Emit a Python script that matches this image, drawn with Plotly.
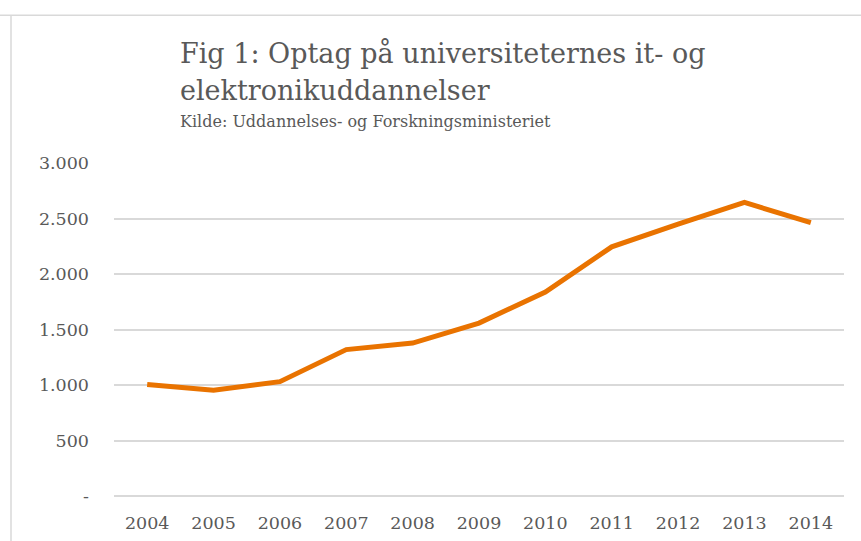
import plotly.graph_objects as go

years = ["2004", "2005", "2006", "2007", "2008", "2009", "2010", "2011", "2012", "2013", "2014"]
optag = [1004, 952, 1030, 1319, 1378, 1558, 1838, 2245, 2450, 2645, 2462]
y_tickvals = [0, 500, 1000, 1500, 2000, 2500, 3000]
y_ticktext = ["-", "500", "1.000", "1.500", "2.000", "2.500", "3.000"]

title_line1 = "Fig 1: Optag på universiteternes it- og"
title_line2 = "elektronikuddannelser"
subtitle = "Kilde: Uddannelses- og Forskningsministeriet"

FONT = "DejaVu Serif"
GRAY = "#595959"
PW, PH = 730, 332.5  # plot area size in px

fig = go.Figure()
fig.add_trace(go.Scatter(
    x=years, y=optag, mode="lines",
    line=dict(color="#E97300", width=5),
    hoverinfo="x+y",
))

fig.update_layout(
    width=861, height=541,
    margin=dict(l=114, r=17, t=163, b=45, pad=0, autoexpand=False),
    paper_bgcolor="white", plot_bgcolor="white",
    showlegend=False,
    font=dict(family=FONT, color=GRAY),
    xaxis=dict(
        type="category", range=[-0.5, 10.5], showgrid=False, zeroline=False, showline=False,
        ticks="", tickfont=dict(size=17.5, color=GRAY, family=FONT),
        ticklabelstandoff=14, automargin=False,
    ),
    yaxis=dict(
        range=[0, 3000], tickvals=y_tickvals, ticktext=y_ticktext,
        showgrid=True, gridcolor="#d9d9d9", gridwidth=1.5,
        zeroline=True, zerolinecolor="#d9d9d9", zerolinewidth=1.5,
        showline=False, ticks="", automargin=False,
        tickfont=dict(size=17.5, color=GRAY, family=FONT),
        ticklabelstandoff=24,
    ),
    shapes=[
        dict(type="line", xref="paper", yref="paper", x0=-114 / PW, x1=1 + 17 / PW,
             y0=1 + 147.5 / PH, y1=1 + 147.5 / PH, line=dict(color="#d9d9d9", width=1.5)),
        dict(type="line", xref="paper", yref="paper", x0=-103 / PW, x1=-103 / PW,
             y0=-45 / PH, y1=1 + 147.5 / PH, line=dict(color="#d9d9d9", width=1.5)),
    ],
)

x_title = (178 - 114) / PW
fig.add_annotation(xref="paper", yref="paper", x=x_title, y=1 + (163 - 36) / PH,
                   xanchor="left", yanchor="top", showarrow=False, align="left",
                   text=title_line1, font=dict(size=27, color=GRAY, family=FONT))
fig.add_annotation(xref="paper", yref="paper", x=x_title, y=1 + (163 - 73) / PH,
                   xanchor="left", yanchor="top", showarrow=False, align="left",
                   text=title_line2, font=dict(size=27, color=GRAY, family=FONT))
fig.add_annotation(xref="paper", yref="paper", x=x_title, y=1 + (163 - 110) / PH,
                   xanchor="left", yanchor="top", showarrow=False, align="left",
                   text=subtitle, font=dict(size=16, color=GRAY, family=FONT))

fig.write_html("out.html", config={"displayModeBar": False},
               post_script="document.body.style.margin='0';")
